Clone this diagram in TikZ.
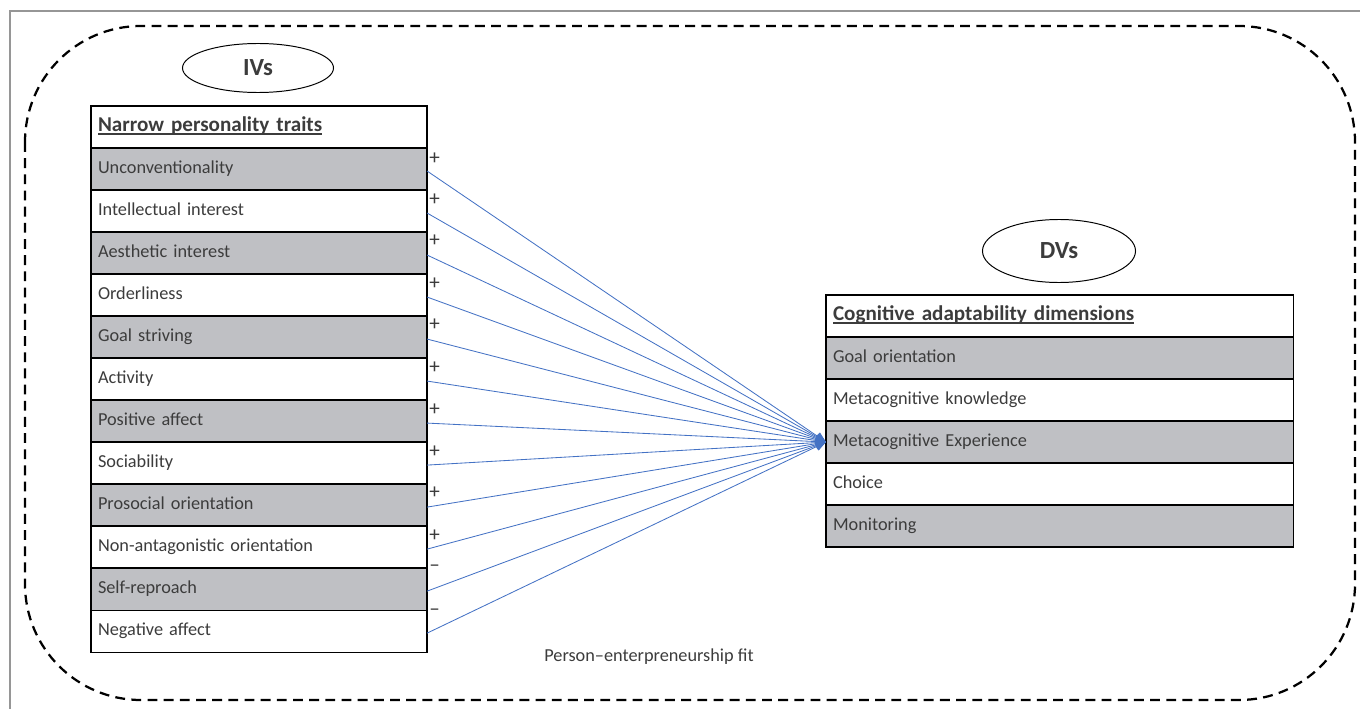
\documentclass[tikz,border=0pt]{standalone}
\usepackage{fontspec}
\setmainfont{Carlito}
\usetikzlibrary{positioning,arrows.meta,shapes.geometric}
\definecolor{rowgray}{RGB}{191,192,196}
\definecolor{linkblue}{RGB}{68,114,196}
\definecolor{txtgray}{RGB}{60,60,60}
\definecolor{framegray}{RGB}{150,150,150}
\newcommand{\ulbar}[1]{\setbox0\hbox{#1}\rlap{\rule[-2.2pt]{\wd0}{1pt}}\box0}
\tikzset{
  cell/.style={draw, line width=0.9pt, outer sep=0pt, minimum height=1.05cm,
    inner xsep=0.175cm, inner ysep=0pt, text width=8.05cm, align=left,
    text=txtgray, font=\fontsize{13}{15}\selectfont, execute at begin node=\strut},
  head/.style={cell, font=\fontsize{15}{17}\selectfont\bfseries},
  sign/.style={anchor=west, inner sep=0pt, text=txtgray, font=\fontsize{15}{17}\selectfont},
  oval/.style={draw, ellipse, line width=0.7pt, inner sep=0pt, font=\fontsize{17.5}{19}\selectfont\bfseries, text=txtgray},
  link/.style={linkblue, line width=0.6pt, -{Triangle[length=0.26cm,width=0.22cm]}},
  fitbox/.style={dashed, line width=1.6pt, dash pattern=on 7pt off 4.5pt, rounded corners=2.9cm}
}
\begin{document}
\begin{tikzpicture}[x=0.025cm, y=-0.025cm]
\useasboundingbox (0,0) rectangle (1360,709);
\draw[framegray, line width=1pt] (10,709) -- (10,11) -- (1360,11);
\draw[fitbox] (25,26) rectangle (1355,700);

\node[oval, minimum width=3.775cm, minimum height=1.225cm] (iv) at (258,68) {IVs};
\node[oval, minimum width=3.825cm, minimum height=1.575cm] (dv) at (1059,251) {DVs};

\node[head, anchor=north west] (r0) at (91,106) {\ulbar{Narrow personality traits}};
\foreach \txt/\tone [count=\i, remember=\i as \j (initially 0)] in
  {Unconventionality/rowgray, Intellectual interest/white, Aesthetic interest/rowgray,
   Orderliness/white, Goal striving/rowgray, Activity/white, Positive affect/rowgray,
   Sociability/white, Prosocial orientation/rowgray, Non-antagonistic orientation/white,
   Self-reproach/rowgray, Negative affect/white}
  \node[cell, fill=\tone, below=0pt of r\j] (r\i) {\txt};

\node[head, anchor=north west, text width=11.325cm] (m0) at (826,295) {\ulbar{Cognitive adaptability dimensions}};
\foreach \txt/\tone [count=\i, remember=\i as \j (initially 0)] in
  {Goal orientation/rowgray, Metacognitive knowledge/white, Metacognitive Experience/rowgray,
   Choice/white, Monitoring/rowgray}
  \node[cell, text width=11.325cm, fill=\tone, below=0pt of m\j] (m\i) {\txt};

\foreach \i/\sgn/\dy in {1/+/11, 2/+/10, 3/+/9, 4/+/10, 5/+/9, 6/+/10, 7/+/10,
  8/+/10, 9/+/9, 10/+/10, 11/--/0, 12/--/2} {
  \node[sign] (s\i) at ([xshift=0.05cm, yshift=-\dy*0.025cm]r\i.north east) {\sgn};
  \draw[link] ([yshift=-0.05cm]r\i.east) -- (m3.west);
}

\node[text=txtgray, font=\fontsize{13}{15}\selectfont] (fit) at (649,657) {Person--enterpreneurship fit};
\end{tikzpicture}
\end{document}
